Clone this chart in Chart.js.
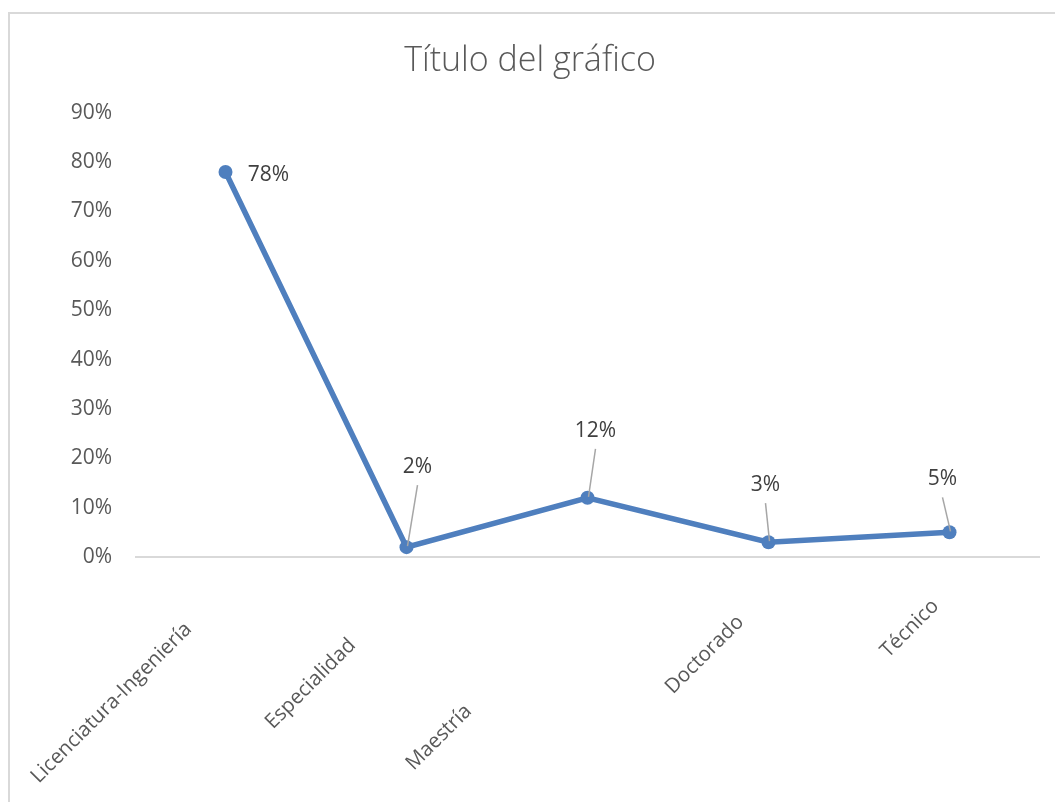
<!DOCTYPE html>
<html>
<head>
<meta charset="utf-8">
<script src="https://cdn.jsdelivr.net/npm/chart.js@4/dist/chart.umd.min.js"></script>
<style>
  html, body { margin: 0; padding: 0; background: #fff; }
  #wrap { position: relative; width: 1055px; height: 802px; overflow: hidden; }
  /* borde del área del gráfico */
  #frame { position: absolute; left: 8px; top: 12px; width: 1100px; height: 850px;
           border-top: 2px solid #d9d9d9; border-left: 2px solid #d9d9d9; }
  canvas { position: absolute; left: 0; top: 0; }
</style>
</head>
<body>
<div id="wrap">
  <div id="frame"></div>
  <canvas id="grafico" width="1055" height="802"></canvas>
</div>
<script>
// datos
const categorias = ["Licenciatura-Ingeniería", "Especialidad", "Maestría", "Doctorado", "Técnico"];
const porcentajes = [0.78, 0.02, 0.12, 0.03, 0.05];
const etiquetas = ["78%", "2%", "12%", "3%", "5%"];

// posición de las etiquetas de datos respecto al punto (dx, dy) y si llevan línea guía
const desplazEtiqueta = [[43, 3], [11, -80], [8, -67], [-3, -57], [-7, -53]];
const conGuia = [false, true, true, true, true];

// posición del final de cada etiqueta del eje X respecto a la categoría y la línea base
const desplazEjeX = [[-37, 69], [-54, 85], [-119, 151], [-28, 62], [-14, 46]];

const FUENTE = "'Open Sans', 'Noto Sans', sans-serif";

const etiquetasDatos = {
  id: "etiquetasDatos",
  afterDatasetsDraw(chart) {
    const ctx = chart.ctx;
    const meta = chart.getDatasetMeta(0);
    ctx.save();
    ctx.font = "21px " + FUENTE;
    ctx.fillStyle = "#404040";
    ctx.textAlign = "center";
    ctx.textBaseline = "middle";
    meta.data.forEach((pt, i) => {
      const lx = pt.x + desplazEtiqueta[i][0];
      const ly = pt.y + desplazEtiqueta[i][1];
      if (conGuia[i]) {
        ctx.strokeStyle = "#a6a6a6";
        ctx.lineWidth = 1.5;
        ctx.beginPath();
        ctx.moveTo(lx, ly + 18);
        ctx.lineTo(pt.x + 1, pt.y - 1);
        ctx.stroke();
      }
      ctx.fillText(etiquetas[i], lx, ly);
    });
    ctx.restore();
  }
};

const ejeX = {
  id: "ejeX",
  afterDraw(chart) {
    const ctx = chart.ctx;
    const x = chart.scales.x;
    const base = chart.scales.y.getPixelForValue(0);
    ctx.save();
    ctx.font = "20.5px " + FUENTE;
    ctx.fillStyle = "#595959";
    ctx.textAlign = "right";
    ctx.textBaseline = "middle";
    categorias.forEach((c, i) => {
      ctx.save();
      ctx.translate(x.getPixelForValue(i) + desplazEjeX[i][0], base + desplazEjeX[i][1]);
      ctx.rotate(-Math.PI / 4);
      ctx.fillText(c, 0, 0);
      ctx.restore();
    });
    ctx.restore();
  }
};

new Chart(document.getElementById("grafico"), {
  type: "line",
  data: {
    labels: categorias,
    datasets: [{
      data: porcentajes,
      borderColor: "#4f7fbe",
      backgroundColor: "#4f7fbe",
      borderWidth: 5.5,
      pointRadius: 7,
      pointBorderWidth: 0,
      tension: 0
    }]
  },
  options: {
    responsive: false,
    animation: false,
    events: [],
    layout: { padding: { left: 20, right: 15, top: 0, bottom: 245 } },
    plugins: {
      legend: { display: false },
      tooltip: { enabled: false },
      title: {
        display: true,
        text: "Título del gráfico",
        color: "#595959",
        font: { family: FUENTE, size: 34, weight: "300" },
        padding: { top: 41, bottom: 31 }
      }
    },
    scales: {
      x: { display: false, offset: true },
      y: {
        min: 0,
        max: 0.9,
        afterFit(scale) { scale.width = 115; },
        border: { display: false },
        grid: {
          drawTicks: false,
          lineWidth: 2,
          color: (c) => c.tick && c.tick.value === 0 ? "#d9d9d9" : "rgba(0,0,0,0)"
        },
        ticks: {
          stepSize: 0.1,
          padding: 23,
          color: "#595959",
          font: { family: FUENTE, size: 21 },
          callback: (v) => Math.round(v * 100) + "%"
        }
      }
    }
  },
  plugins: [etiquetasDatos, ejeX]
});
</script>
</body>
</html>
